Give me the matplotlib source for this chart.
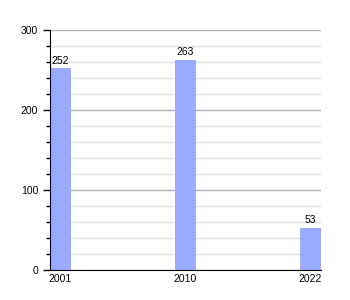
import matplotlib.pyplot as plt
from matplotlib.ticker import MultipleLocator

plt.rcParams["font.family"] = ["Liberation Sans", "DejaVu Sans"]

# data
years = ["2001", "2010", "2022"]
values = [252, 263, 53]

bar_colour = "#99aaff"

fig = plt.figure(figsize=(3.5, 3.0), dpi=100)
ax = fig.add_axes([50 / 350, 30 / 300, 271 / 350, 240 / 300])

pos = list(range(len(years)))
bar_w = 0.168
ax.bar(pos, values, width=bar_w, align="edge", color=bar_colour, zorder=3)
for p, v in zip(pos, values):
    ax.text(p + bar_w / 2, v + 3, str(v), ha="center", va="bottom", fontsize=7.5, zorder=4)

ax.set_xlim(0, len(years) - 1 + bar_w)
ax.set_ylim(0, 300)
ax.set_xticks([p + bar_w / 2 for p in pos])
ax.set_xticklabels(years, fontsize=7.5)
ax.tick_params(axis="x", length=0, pad=3)

ax.yaxis.set_major_locator(MultipleLocator(100))
ax.yaxis.set_minor_locator(MultipleLocator(20))
ax.tick_params(axis="y", which="major", length=5, width=1, labelsize=7.5, direction="out")
ax.tick_params(axis="y", which="minor", length=3, width=1, direction="out")

ax.grid(axis="y", which="major", color="#b0b0b0", linewidth=1, zorder=0)
ax.grid(axis="y", which="minor", color="#e2e2e2", linewidth=1, zorder=0)

ax.spines["top"].set_visible(False)
ax.spines["right"].set_visible(False)
ax.spines["left"].set_zorder(5)
ax.spines["bottom"].set_zorder(5)

fig.savefig("out.png", dpi=100)
